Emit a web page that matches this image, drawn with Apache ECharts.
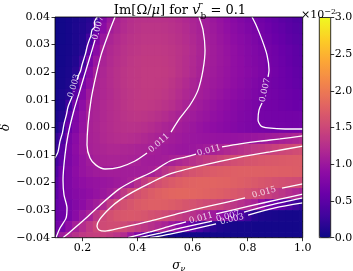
<!DOCTYPE html>
<html><head><meta charset="utf-8">
<script src="https://cdn.jsdelivr.net/npm/echarts@6/dist/echarts.min.js"></script>
<style>html,body{margin:0;padding:0;background:#fff}#c{width:353px;height:271px}</style>
</head><body><div id="c"></div>
<script>
// grid of sigma_nu values (columns)
const xs = [0.100,0.125,0.150,0.175,0.200,0.225,0.250,0.275,0.300,0.325,0.350,0.375,0.400,0.425,0.450,0.475,0.500,0.525,0.550,0.575,0.600,0.625,0.650,0.675,0.700,0.725,0.750,0.775,0.800,0.825,0.850,0.875,0.900,0.925,0.950,0.975,1.000];
// grid of delta values (rows, top to bottom)
const ds = [0.040,0.036,0.032,0.028,0.024,0.020,0.016,0.012,0.008,0.004,0.000,-0.004,-0.008,-0.012,-0.016,-0.020,-0.024,-0.028,-0.032,-0.036,-0.040];
// Im[Omega/mu] in units of 1e-2
const im = [
[0.02,0.03,0.05,0.08,0.11,0.15,0.28,0.79,0.98,1.12,1.19,1.24,1.27,1.28,1.28,1.28,1.27,1.25,1.22,1.18,1.14,1.10,1.05,1.00,0.95,0.89,0.84,0.79,0.73,0.68,0.64,0.59,0.55,0.50,0.46,0.42,0.38],
[0.02,0.03,0.05,0.09,0.12,0.18,0.55,0.86,1.06,1.15,1.21,1.26,1.29,1.31,1.31,1.31,1.30,1.28,1.25,1.21,1.16,1.11,1.07,1.02,0.97,0.92,0.87,0.82,0.77,0.72,0.68,0.63,0.58,0.54,0.49,0.45,0.41],
[0.02,0.03,0.05,0.09,0.13,0.32,0.75,0.99,1.14,1.20,1.25,1.29,1.31,1.33,1.33,1.33,1.32,1.30,1.27,1.23,1.18,1.13,1.08,1.04,0.99,0.94,0.89,0.85,0.80,0.75,0.70,0.66,0.61,0.57,0.52,0.48,0.44],
[0.02,0.04,0.06,0.10,0.15,0.52,0.86,1.10,1.18,1.23,1.28,1.31,1.33,1.35,1.35,1.35,1.34,1.32,1.29,1.25,1.20,1.14,1.10,1.05,1.01,0.96,0.92,0.87,0.82,0.78,0.74,0.69,0.65,0.60,0.56,0.52,0.47],
[0.03,0.04,0.07,0.12,0.28,0.73,0.98,1.13,1.20,1.25,1.29,1.33,1.35,1.37,1.37,1.37,1.36,1.33,1.29,1.24,1.19,1.13,1.09,1.05,1.01,0.97,0.92,0.88,0.83,0.79,0.75,0.70,0.66,0.62,0.57,0.53,0.49],
[0.03,0.05,0.08,0.17,0.50,0.84,1.08,1.16,1.22,1.27,1.31,1.34,1.36,1.38,1.38,1.38,1.37,1.34,1.29,1.24,1.18,1.12,1.08,1.04,1.00,0.96,0.92,0.88,0.84,0.80,0.76,0.71,0.67,0.63,0.59,0.55,0.51],
[0.04,0.06,0.10,0.29,0.73,0.92,1.12,1.17,1.22,1.27,1.31,1.34,1.36,1.38,1.38,1.37,1.35,1.31,1.26,1.20,1.14,1.09,1.06,1.02,0.99,0.95,0.91,0.87,0.82,0.78,0.74,0.69,0.66,0.63,0.60,0.56,0.53],
[0.05,0.08,0.13,0.49,0.81,1.02,1.13,1.17,1.21,1.26,1.30,1.33,1.35,1.37,1.37,1.36,1.33,1.29,1.23,1.17,1.12,1.08,1.04,1.00,0.96,0.92,0.88,0.84,0.80,0.76,0.72,0.69,0.67,0.64,0.62,0.59,0.56],
[0.06,0.10,0.30,0.70,0.89,1.09,1.14,1.18,1.22,1.26,1.30,1.33,1.35,1.35,1.34,1.32,1.29,1.25,1.19,1.13,1.08,1.04,1.00,0.96,0.92,0.88,0.84,0.80,0.77,0.73,0.70,0.68,0.67,0.65,0.63,0.61,0.59],
[0.08,0.14,0.48,0.77,0.94,1.10,1.14,1.18,1.22,1.25,1.29,1.31,1.32,1.31,1.29,1.26,1.22,1.17,1.12,1.07,1.04,1.00,0.97,0.93,0.90,0.86,0.83,0.79,0.76,0.72,0.70,0.69,0.68,0.68,0.67,0.67,0.66],
[0.10,0.22,0.61,0.79,0.96,1.11,1.15,1.19,1.22,1.25,1.27,1.28,1.27,1.25,1.22,1.18,1.14,1.11,1.07,1.03,1.00,0.96,0.93,0.90,0.87,0.84,0.81,0.78,0.75,0.73,0.71,0.70,0.69,0.69,0.68,0.68,0.68],
[0.22,0.38,0.73,0.86,1.00,1.11,1.14,1.18,1.21,1.23,1.24,1.23,1.21,1.18,1.15,1.12,1.09,1.06,1.03,1.01,0.99,0.98,0.97,0.96,0.95,0.95,0.95,0.96,0.97,0.99,1.01,1.03,1.06,1.09,1.12,1.16,1.20],
[0.24,0.49,0.75,0.88,1.00,1.10,1.13,1.15,1.17,1.17,1.16,1.15,1.13,1.12,1.10,1.07,1.04,1.02,1.00,0.99,1.00,1.02,1.05,1.10,1.14,1.18,1.22,1.26,1.30,1.34,1.37,1.41,1.45,1.49,1.52,1.55,1.57],
[0.33,0.52,0.75,0.86,0.96,1.04,1.10,1.12,1.13,1.13,1.12,1.11,1.10,1.07,1.06,1.06,1.08,1.11,1.16,1.21,1.26,1.31,1.37,1.42,1.47,1.52,1.57,1.60,1.63,1.65,1.67,1.68,1.69,1.70,1.71,1.72,1.72],
[0.42,0.64,0.78,0.88,0.96,1.01,1.04,1.06,1.07,1.07,1.07,1.07,1.07,1.08,1.09,1.18,1.29,1.39,1.50,1.57,1.62,1.66,1.69,1.71,1.73,1.74,1.75,1.76,1.76,1.76,1.76,1.75,1.75,1.74,1.74,1.73,1.72],
[0.48,0.68,0.78,0.86,0.91,0.94,0.96,0.98,1.00,1.03,1.06,1.10,1.24,1.38,1.50,1.58,1.65,1.70,1.74,1.77,1.79,1.80,1.80,1.80,1.79,1.78,1.76,1.74,1.72,1.69,1.66,1.63,1.60,1.58,1.56,1.54,1.52],
[0.52,0.67,0.77,0.83,0.87,0.91,0.95,1.00,1.06,1.18,1.34,1.50,1.59,1.66,1.72,1.76,1.79,1.81,1.82,1.82,1.81,1.80,1.78,1.76,1.74,1.71,1.68,1.64,1.60,1.55,1.51,1.44,1.37,1.31,1.24,1.17,1.10],
[0.56,0.64,0.72,0.81,0.88,0.97,1.05,1.18,1.38,1.52,1.59,1.65,1.70,1.73,1.75,1.75,1.74,1.72,1.69,1.65,1.61,1.57,1.53,1.50,1.46,1.39,1.32,1.25,1.18,1.12,0.93,0.70,0.60,0.49,0.38,0.28,0.20],
[0.60,0.65,0.73,0.86,1.00,1.11,1.32,1.50,1.58,1.64,1.67,1.68,1.67,1.64,1.60,1.57,1.53,1.48,1.41,1.34,1.27,1.20,1.13,1.02,0.90,0.77,0.62,0.43,0.27,0.14,0.10,0.08,0.07,0.06,0.05,0.05,0.05],
[0.66,0.72,0.91,1.09,1.22,1.35,1.49,1.53,1.55,1.55,1.52,1.46,1.39,1.32,1.26,1.19,1.12,1.01,0.86,0.71,0.53,0.38,0.25,0.16,0.11,0.08,0.06,0.05,0.05,0.04,0.04,0.04,0.04,0.04,0.04,0.04,0.04],
[0.69,1.04,1.17,1.27,1.35,1.40,1.42,1.41,1.37,1.30,1.21,1.01,0.78,0.52,0.27,0.15,0.09,0.06,0.05,0.04,0.04,0.04,0.04,0.04,0.04,0.04,0.04,0.04,0.04,0.04,0.04,0.04,0.04,0.04,0.04,0.04,0.04]
];

// contour segments [sigma_nu, delta], split where labels sit
const c003Left = [
 [[0.2526,0.0400],[0.2430,0.0380],[0.2450,0.0365],[0.2345,0.0353],[0.2300,0.0330],[0.2250,0.0318],[0.2163,0.0291],[0.2110,0.0268],[0.1981,0.0226],[0.1930,0.0205],[0.1860,0.0190],[0.1800,0.0172]],
 [[0.1618,0.0110],[0.1472,0.0074],[0.1420,0.0048],[0.1327,0.0012],[0.1270,-0.0020],[0.1182,-0.0050],[0.1109,-0.0089],[0.1000,-0.0111]]
];
const c007Left = [
 [[0.2454,0.0317],[0.2345,0.0280],[0.2127,0.0208],[0.1909,0.0135],[0.1690,0.0063],[0.1472,-0.0028],[0.1363,-0.0100],[0.1291,-0.0191],[0.1327,-0.0245],[0.1436,-0.0292],[0.1400,-0.0329],[0.1182,-0.0365],[0.1036,-0.0400]]
];
const c011Upper = [
 [[0.3180,0.0400],[0.2926,0.0335],[0.2672,0.0262],[0.2454,0.0172],[0.2308,0.0099],[0.2199,0.0009],[0.2163,-0.0064],[0.2272,-0.0111],[0.2490,-0.0137],[0.2817,-0.0151],[0.3362,-0.0144],[0.3907,-0.0122],[0.4343,-0.0093]],
 [[0.5215,-0.0017],[0.5543,0.0034],[0.5906,0.0081],[0.6197,0.0135],[0.6378,0.0208],[0.6451,0.0280],[0.6378,0.0353],[0.6233,0.0400]]
];
const c007Right = [
 [[0.8159,0.0400],[0.8305,0.0371],[0.8523,0.0317],[0.8704,0.0262],[0.8777,0.0208],[0.8741,0.0183]],
 [[0.8523,0.0088],[0.8414,0.0063],[0.8377,0.0027],[0.8486,0.0005],[0.8741,-0.0002],[0.9358,-0.0006],[1.0000,-0.0006]]
];
const c011BandUpper = [
 [[0.1291,-0.0400],[0.1545,-0.0379],[0.2090,-0.0332],[0.2635,-0.0282],[0.3326,-0.0224],[0.3907,-0.0191],[0.4525,-0.0162],[0.5179,-0.0122],[0.5724,-0.0108],[0.6124,-0.0097]],
 [[0.7069,-0.0071],[0.7723,-0.0060],[0.8450,-0.0050],[0.9177,-0.0042],[1.0000,-0.0031]]
];
const c015Band = [
 [[1.0000,-0.0068],[0.8813,-0.0089],[0.7723,-0.0108],[0.6269,-0.0140],[0.5179,-0.0169],[0.4452,-0.0202],[0.3834,-0.0234],[0.3362,-0.0263],[0.2999,-0.0292],[0.2635,-0.0332],[0.2526,-0.0358],[0.2599,-0.0372],[0.2817,-0.0376],[0.3362,-0.0365],[0.4452,-0.0340],[0.5543,-0.0311],[0.6633,-0.0285],[0.7905,-0.0256]],
 [[0.9249,-0.0220],[1.0000,-0.0205]]
];
const c011Lower = [
 [[0.3653,-0.0400],[0.4452,-0.0379],[0.5179,-0.0358],[0.5760,-0.0343]],
 [[0.6851,-0.0314],[0.8087,-0.0285],[0.9177,-0.0260],[1.0000,-0.0242]]
];
const c007Lower = [
 [[0.4089,-0.0400],[0.4816,-0.0383],[0.5543,-0.0365],[0.6705,-0.0340]],
 [[0.7868,-0.0307],[0.8813,-0.0282],[1.0000,-0.0256]]
];
const c003Lower = [
 [[0.4452,-0.0400],[0.5179,-0.0387],[0.5906,-0.0372],[0.6851,-0.0350]],
 [[0.8014,-0.0318],[0.8995,-0.0292],[1.0000,-0.0274]]
];
const labelText = ['0.007','0.003','0.011','0.007','0.011','0.015','0.011','0.007','0.003'];
const labelPos = [[0.2563,0.0360],[0.1690,0.0150],[0.4779,-0.0057],[0.8632,0.0135],[0.6596,-0.0084],[0.8595,-0.0236],[0.6306,-0.0329],[0.7287,-0.0323],[0.7432,-0.0334]];
const labelAngle = [75,73,41,77,15,15,14,14,14];

const xTicks = [0.2,0.4,0.6,0.8,1.0];
const xTickLabels = ['0.2','0.4','0.6','0.8','1.0'];
const yTickLabels = ['\u22120.04','\u22120.03','\u22120.02','\u22120.01','0.00','0.01','0.02','0.03','0.04'];
const cbTickLabels = ['0.0','0.5','1.0','1.5','2.0','2.5','3.0'];

const plasma = ['#0d0887','#41049d','#6a00a8','#8f0da4','#b12a90','#cc4778','#e16462','#f2844b','#fca636','#fcce25','#f0f921'];
const FONT = 'DejaVu Serif';

const heat = [];
for (let i = 0; i < ds.length; i++) for (let j = 0; j < xs.length; j++) heat.push([xs[j], ds[i], im[i][j]]);
const DX = xs[1] - xs[0], DY = ds[0] - ds[1];

const series = [{
  type: 'custom', xAxisIndex: 0, yAxisIndex: 0, silent: true, z: 1,
  encode: {x: 0, y: 1},
  data: heat,
  renderItem: function (params, api) {
    const x = api.value(0), y = api.value(1);
    const a = api.coord([x - DX / 2, y + DY / 2]);
    const b = api.coord([x + DX / 2, y - DY / 2]);
    const cs = params.coordSys;
    const r = echarts.graphic.clipRectByRect(
      {x: a[0], y: a[1], width: b[0] - a[0] + 0.7, height: b[1] - a[1] + 0.7},
      {x: cs.x, y: cs.y, width: cs.width, height: cs.height});
    if (!r) return;
    return {type: 'rect', shape: r, style: {fill: api.visual('color')}};
  }
}];
[c003Left, c007Left, c011Upper, c007Right, c011BandUpper, c015Band, c011Lower, c007Lower, c003Lower].forEach(function (c) {
  c.forEach(function (seg) {
    series.push({type: 'line', xAxisIndex: 0, yAxisIndex: 0, data: seg, symbol: 'none', smooth: 0.25, silent: true, z: 4,
      lineStyle: {color: '#ffffff', width: 1.3}});
  });
});
series.push({
  type: 'scatter', xAxisIndex: 0, yAxisIndex: 0, symbolSize: 0, silent: true, z: 5,
  data: labelPos.map(function (p, k) { return {value: p, label: {formatter: labelText[k], rotate: labelAngle[k]}}; }),
  label: {show: true, position: 'inside', color: '#ffffff', fontSize: 8.5, fontFamily: FONT}
});

const chart = echarts.init(document.getElementById('c'), null, {renderer: 'canvas'});
chart.setOption({
  animation: false,
  backgroundColor: '#ffffff',
  title: [{
    text: '{r|Im[\u03a9/}{i|\u03bc}{r|] for }{i|v}{u|r}{s|b}{r| = 0.1}',
    left: 175, top: -4, textAlign: 'center',
    textStyle: {fontWeight: 'normal', rich: {
      r: {fontFamily: FONT, fontSize: 13, fontWeight: 'normal', color: '#000', lineHeight: 16},
      i: {fontFamily: FONT, fontSize: 13, fontWeight: 'normal', fontStyle: 'italic', color: '#000', lineHeight: 16},
      u: {fontFamily: FONT, fontSize: 9, fontWeight: 'normal', fontStyle: 'italic', color: '#000', verticalAlign: 'top', lineHeight: 16, width: 1},
      s: {fontFamily: FONT, fontSize: 9, fontWeight: 'normal', color: '#000', verticalAlign: 'bottom', lineHeight: 20}
    }}
  }, {
    text: '{r|\u00d710}{u|\u22122}',
    left: 296, top: 3, textAlign: 'left',
    textStyle: {fontWeight: 'normal', rich: {
      r: {fontFamily: FONT, fontSize: 11, fontWeight: 'normal', color: '#000', lineHeight: 14},
      u: {fontFamily: FONT, fontSize: 8, fontWeight: 'normal', color: '#000', verticalAlign: 'top', lineHeight: 14}
    }}
  }],
  grid: [
    {left: 55, top: 17, width: 247.7, height: 220.7, show: true, borderColor: '#000', borderWidth: 0.8, backgroundColor: 'transparent', z: 10, containLabel: false, outerBoundsMode: 'none'},
    {left: 319.3, top: 17.5, width: 11.4, height: 220.2, show: true, borderColor: '#000', borderWidth: 0.8, backgroundColor: 'transparent', z: 10, containLabel: false, outerBoundsMode: 'none'}
  ],
  xAxis: [{
    type: 'value', gridIndex: 0, min: 0.1, max: 1.0, z: 10, position: 'bottom',
    name: '{i|\u03c3}{s|\u03bd}', nameLocation: 'middle', nameGap: 21, nameMoveOverlap: false,
    nameTextStyle: {rich: {
      i: {fontFamily: FONT, fontSize: 12, fontStyle: 'italic', color: '#000'},
      s: {fontFamily: FONT, fontSize: 8, fontStyle: 'italic', color: '#000', verticalAlign: 'bottom', padding: [6, 0, 0, 0]}
    }},
    axisLine: {show: false, onZero: false},
    axisTick: {show: true, length: 3.5, lineStyle: {color: '#000', width: 0.8}, customValues: xTicks},
    axisLabel: {customValues: xTicks, margin: 5, fontFamily: FONT, fontSize: 11, color: '#000',
      formatter: function (v) { const k = xTicks.findIndex(function (t) { return Math.abs(t - v) < 1e-6; }); return k >= 0 ? xTickLabels[k] : ''; }},
    splitLine: {show: false}
  }, {
    type: 'value', gridIndex: 1, min: 0, max: 1, show: false
  }],
  yAxis: [{
    type: 'value', gridIndex: 0, min: -0.04, max: 0.04, interval: 0.01, z: 10, position: 'left',
    name: '\u03b4', nameLocation: 'middle', nameGap: 43, nameRotate: 90, nameMoveOverlap: false,
    nameTextStyle: {fontFamily: FONT, fontSize: 12, fontStyle: 'italic', color: '#000'},
    axisLine: {show: false, onZero: false},
    axisTick: {show: true, length: 3.5, lineStyle: {color: '#000', width: 0.8}},
    axisLabel: {margin: 5, fontFamily: FONT, fontSize: 11, color: '#000',
      formatter: function (v) { return yTickLabels[Math.round((v + 0.04) / 0.01)]; }},
    splitLine: {show: false}
  }, {
    type: 'value', gridIndex: 1, min: 0, max: 3, interval: 0.5, position: 'right', z: 10,
    axisLine: {show: false, onZero: false},
    axisTick: {show: true, length: 3.5, lineStyle: {color: '#000', width: 0.8}},
    axisLabel: {margin: 4, fontFamily: FONT, fontSize: 11, color: '#000',
      formatter: function (v) { return cbTickLabels[Math.round(v / 0.5)]; }},
    splitLine: {show: false}
  }],
  visualMap: {
    type: 'continuous', min: 0, max: 3, dimension: 2, seriesIndex: 0,
    inRange: {color: plasma}, calculable: false, show: true, hoverLink: false,
    left: 319.3, top: 17.5, itemWidth: 11.4, itemHeight: 220.2, padding: 0, text: null
  },
  series: series
});
</script>
</body></html>
